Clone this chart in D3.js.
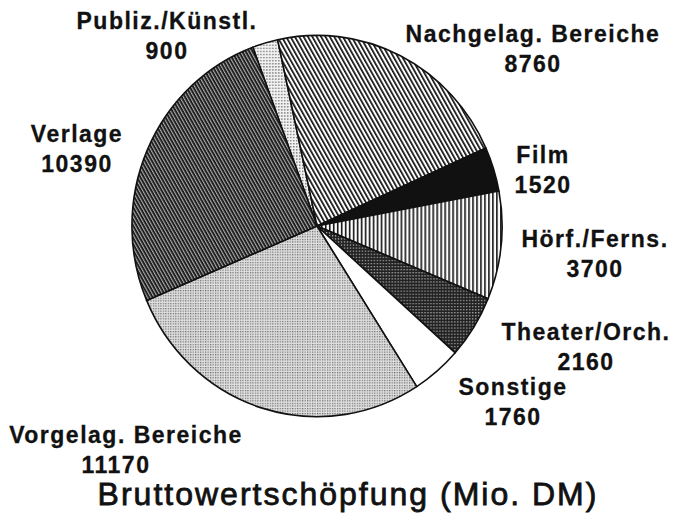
<!DOCTYPE html>
<html>
<head>
<meta charset="utf-8">
<script src="https://cdn.jsdelivr.net/npm/d3@7"></script>
<style>
  body { margin: 0; background: #fff; }
  .lbl { font-family: "Liberation Sans", Arial, sans-serif; font-weight: bold; font-size: 23px; letter-spacing: 1.5px; fill: #111; stroke: #111; stroke-width: 0.3px; }
  .title { font-family: "Liberation Sans", Arial, sans-serif; font-size: 32px; letter-spacing: 2px; fill: #111; stroke: #111; stroke-width: 0.8px; }
</style>
</head>
<body>
<div class="chart"></div>
<script>
// data, clockwise from the top
var categories = ["Publiz./Künstl.", "Nachgelag. Bereiche", "Film", "Hörf./Ferns.",
                  "Theater/Orch.", "Sonstige", "Vorgelag. Bereiche", "Verlage"];
var values = [900, 8760, 1520, 3700, 2160, 1760, 11170, 10390];
var titleText = "Bruttowertschöpfung (Mio. DM)";

// label placement: [x, baseline, dx of the value line]
var labelPos = [[167, 29, 0], [533, 42, 0], [543, 163, 0], [595, 247, 0],
                [586, 340, 0], [513, 395, 0], [126, 443, -10], [77, 142, 0]];
var fills = ["url(#pPubliz)", "url(#pNach)", "#111", "url(#pHorf)",
             "url(#pTheater)", "#fff", "url(#pVorgel)", "url(#pVerlage)"];

var width = 680, height = 516;
var cx = 317, cy = 226, radius = 186;

var svg = d3.select(".chart").append("svg")
    .attr("width", width)
    .attr("height", height);

var defs = svg.append("defs");

// stipple patterns
function dots(id, size, dot, bg, fg) {
    var p = defs.append("pattern").attr("id", id)
        .attr("patternUnits", "userSpaceOnUse")
        .attr("width", size).attr("height", size);
    p.append("rect").attr("width", size).attr("height", size).attr("fill", bg);
    p.append("rect").attr("width", dot).attr("height", dot).attr("fill", fg);
}
// line patterns
function lines(id, size, lw, bg, fg, angle) {
    var p = defs.append("pattern").attr("id", id)
        .attr("patternUnits", "userSpaceOnUse")
        .attr("width", size).attr("height", size)
        .attr("patternTransform", "rotate(" + angle + ")");
    p.append("rect").attr("width", size).attr("height", size).attr("fill", bg);
    p.append("rect").attr("width", lw).attr("height", size).attr("fill", fg);
}

dots("pPubliz", 3, 1.4, "#f2f2f2", "#777");
lines("pNach", 3.8, 1.7, "#fff", "#111", -30);
lines("pHorf", 4, 1.6, "#fff", "#111", 0);
dots("pTheater", 3, 1.2, "#222", "#bbb");
dots("pVorgel", 2.5, 1.2, "#e0e0e0", "#6a6a6a");
lines("pVerlage", 3, 1.1, "#1e1e1e", "#aaa", -30);

var pie = d3.pie()
    .sort(null)
    .startAngle(-20.3 * Math.PI / 180)
    .endAngle((360 - 20.3) * Math.PI / 180);

var arc = d3.arc().innerRadius(0).outerRadius(radius);

var g = svg.append("g")
    .attr("transform", "translate(" + cx + "," + cy + ") scale(0.995,1.025)");

g.selectAll("path.slice")
    .data(pie(values))
    .enter().append("path")
    .attr("class", "slice")
    .attr("d", arc)
    .attr("fill", function(d, i) { return fills[i]; })
    .attr("stroke", "#111")
    .attr("stroke-width", 1.6)
    .attr("stroke-linejoin", "round");

var labels = svg.selectAll("g.label")
    .data(categories)
    .enter().append("g")
    .attr("class", "label");

labels.append("text")
    .attr("class", "lbl")
    .attr("text-anchor", "middle")
    .attr("x", function(d, i) { return labelPos[i][0]; })
    .attr("y", function(d, i) { return labelPos[i][1]; })
    .text(function(d) { return d; });

labels.append("text")
    .attr("class", "lbl")
    .attr("text-anchor", "middle")
    .attr("x", function(d, i) { return labelPos[i][0] + labelPos[i][2]; })
    .attr("y", function(d, i) { return labelPos[i][1] + 29.5; })
    .text(function(d, i) { return values[i]; });

svg.append("text")
    .attr("class", "title")
    .attr("text-anchor", "middle")
    .attr("x", 348)
    .attr("y", 505)
    .text(titleText);
</script>
</body>
</html>
